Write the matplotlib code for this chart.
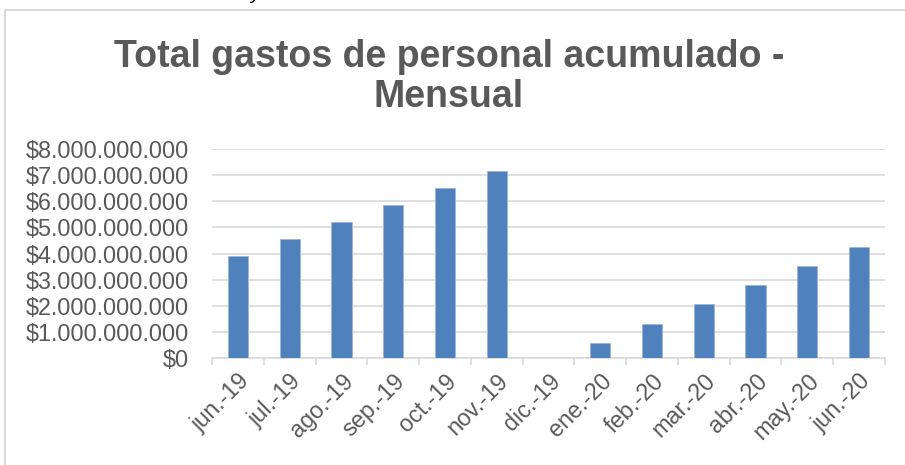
import matplotlib
matplotlib.use("Agg")
import matplotlib.pyplot as plt
from matplotlib.ticker import FuncFormatter, FixedLocator
from matplotlib.lines import Line2D
import numpy as np

plt.rcParams['font.family'] = ['Liberation Sans', 'DejaVu Sans']

categories = ["jun.-19", "jul.-19", "ago.-19", "sep.-19", "oct.-19", "nov.-19",
              "dic.-19", "ene.-20", "feb.-20", "mar.-20", "abr.-20", "may.-20", "jun.-20"]
values = [3.90e9, 4.56e9, 5.22e9, 5.86e9, 6.50e9, 7.16e9,
          0.0, 0.60e9, 1.30e9, 2.08e9, 2.80e9, 3.54e9, 4.25e9]
title = "Total gastos de personal acumulado -\nMensual"

W, H = 905, 465
fig = plt.figure(figsize=(W / 100, H / 100), dpi=100)
fig.patch.set_facecolor("white")

ax = fig.add_axes([212 / W, 1 - 358.3 / H, (885 - 212) / W, (358.3 - 149) / H])
x = np.arange(len(categories))
ax.bar(x, values, width=0.39, color="#4f81bd", edgecolor="#9db6d9", linewidth=0.6, zorder=3)

ax.set_xlim(-0.5, len(categories) - 0.5)
ax.set_ylim(0, 8e9)
ax.set_yticks(np.arange(0, 8.01e9, 1e9))


def fmt(v, pos):
    s = f"{int(round(v)):,}".replace(",", ".")
    return "$" + s


ax.yaxis.set_major_formatter(FuncFormatter(fmt))
ax.grid(axis="y", color="#d9d9d9", linewidth=1.2, zorder=0)
ax.set_axisbelow(True)
for side in ["top", "right", "left"]:
    ax.spines[side].set_visible(False)
ax.spines["bottom"].set_color("#d9d9d9")
ax.spines["bottom"].set_linewidth(1.2)

ax.tick_params(axis="y", length=0, pad=16.5, labelsize=16.8, labelcolor="#595959")
ax.set_xticks(x)
ax.set_xticklabels(categories, rotation=45, ha="right", rotation_mode="anchor",
                   fontsize=16.8, color="#595959")
ax.tick_params(axis="x", which="major", length=0, pad=8)
ax.xaxis.set_minor_locator(FixedLocator(np.arange(-0.5, len(categories), 1.0)))
ax.tick_params(axis="x", which="minor", length=5, width=1.2, color="#d9d9d9")

fig.text(449 / W, 1 - 39 / H, title, ha="center", va="top", fontsize=27,
         fontweight="bold", color="#595959", linespacing=1.15)

# chart frame (top and left edges visible)
fig.add_artist(Line2D([5 / W, 1.0], [1 - 10 / H, 1 - 10 / H], transform=fig.transFigure,
                      color="#d9d9d9", linewidth=1.5))
fig.add_artist(Line2D([5 / W, 5 / W], [0, 1 - 10 / H], transform=fig.transFigure,
                      color="#d9d9d9", linewidth=1.5))

# cut-off fragment of text above the chart
fig.text(255 / W, 1 + 1 / H, "y", ha="center", va="baseline", fontsize=14,
         style="italic", color="black")

fig.savefig("out.png", dpi=100)
